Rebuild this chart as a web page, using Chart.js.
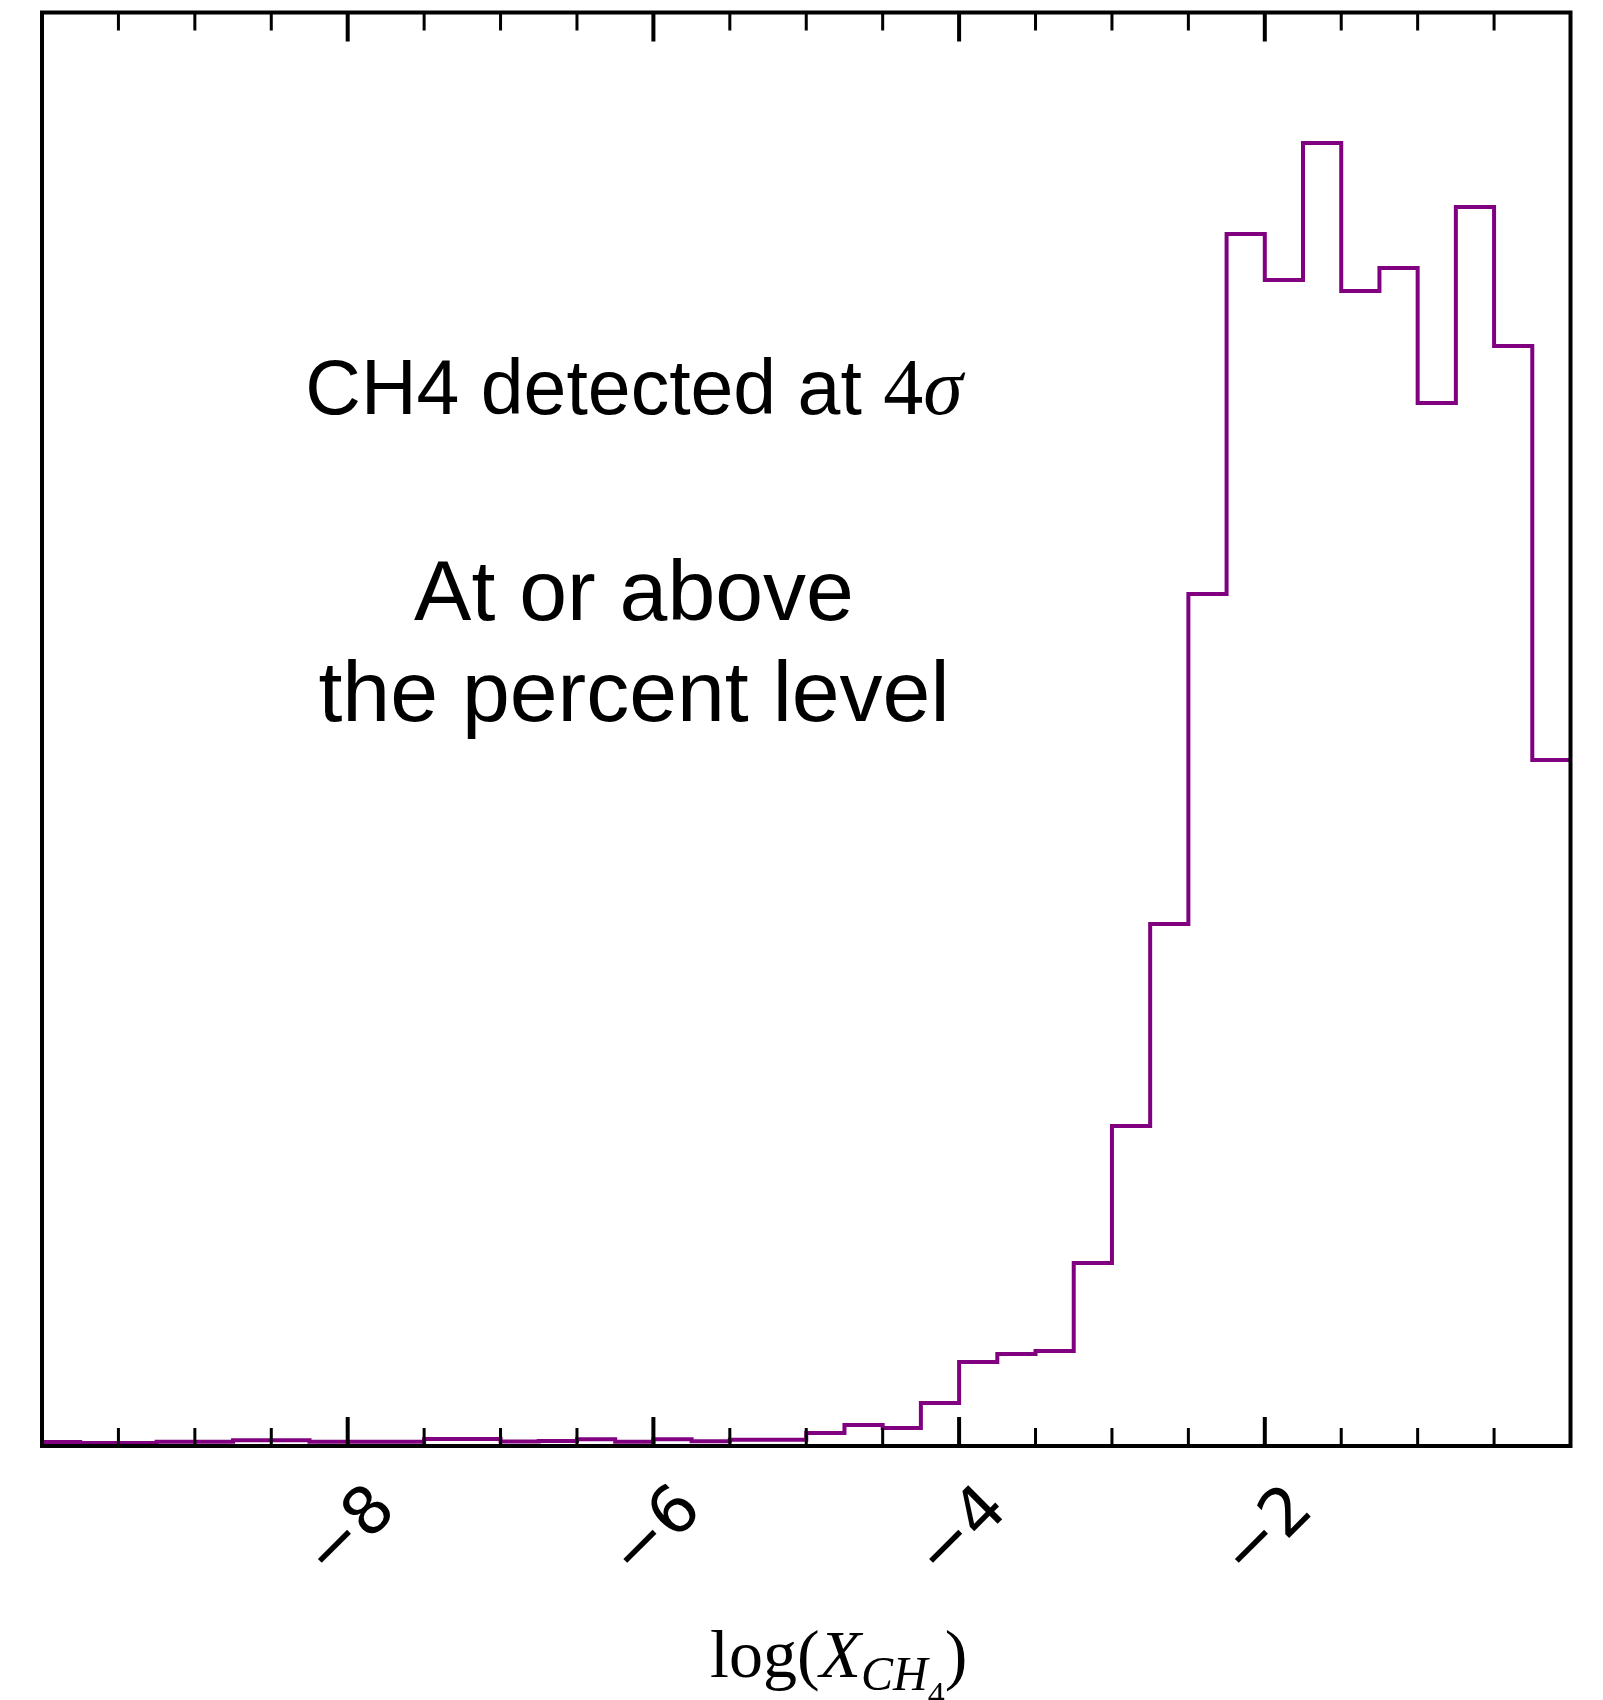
<!DOCTYPE html>
<html>
<head>
<meta charset="utf-8">
<script src="https://cdn.jsdelivr.net/npm/chart.js@4.4.1/dist/chart.umd.min.js"></script>
<style>
    body { margin: 0; background: #fff; }
    #wrap { width: 1603px; height: 1700px; }
</style>
</head>
<body>
<div id="wrap"><canvas id="histCH4" width="1603" height="1700"></canvas></div>
<script>
// Histogram of log(X_CH4) — left bin edges (bin width 0.25) and bin heights
const binEdges = [
    -10, -9.75, -9.5, -9.25, -9, -8.75, -8.5, -8.25,
    -8, -7.75, -7.5, -7.25, -7, -6.75, -6.5, -6.25,
    -6, -5.75, -5.5, -5.25, -5, -4.75, -4.5, -4.25,
    -4, -3.75, -3.5, -3.25, -3, -2.75, -2.5, -2.25,
    -2, -1.75, -1.5, -1.25, -1, -0.75, -0.5, -0.25
];
const binEnd = 0;
const counts = [
    4, 3, 3, 4.3, 4.3, 5.7, 5.7, 4.3,
    4.3, 4.3, 7, 7, 4.5, 5, 6.7, 4.3,
    6.7, 4.7, 6.3, 6.3, 13, 21, 18, 43,
    84, 92, 95, 183, 320, 522, 852, 1212,
    1166, 1303, 1155, 1178, 1043, 1239, 1100, 686
];

// axis ticks
const minorStep = 0.5;
const tickLabels = [-8, -6, -4, -2];
const xLabel = 'log(X_CH4)';

// annotation
const noteLine1 = 'CH4 detected at ';
const noteSigma = ['4', 'σ'];
const noteLines = ['At or above', 'the percent level'];

const LINE_COLOR = '#800080';

// build the stepped outline: each edge holds its count until the next edge
const points = binEdges.map((x, i) => ({ x: x, y: counts[i] }));
points.push({ x: binEnd, y: counts[counts.length - 1] });

// frame, inward ticks, rotated tick labels, axis title and the note
const decorations = {
    id: 'decorations',
    afterDraw(chart) {
        const ctx = chart.ctx;
        const area = chart.chartArea;
        const xs = chart.scales.x;

        ctx.save();
        ctx.strokeStyle = '#000';
        ctx.lineCap = 'butt';

        // ticks on top and bottom, pointing inward
        xs.ticks.forEach(t => {
            const v = t.value;
            if (v <= xs.min || v >= xs.max) return;
            const px = xs.getPixelForValue(v);
            const major = tickLabels.includes(v);
            const len = major ? 29 : 18;
            ctx.lineWidth = major ? 4 : 3;
            ctx.beginPath();
            ctx.moveTo(px, area.bottom);
            ctx.lineTo(px, area.bottom - len);
            ctx.moveTo(px, area.top);
            ctx.lineTo(px, area.top + len);
            ctx.stroke();
        });

        // frame
        ctx.lineWidth = 4;
        ctx.strokeRect(area.left, area.top, area.right - area.left, area.bottom - area.top);

        // tick labels, rotated 45 degrees and centred under the tick
        ctx.fillStyle = '#000';
        ctx.font = '66px "DejaVu Sans"';
        ctx.textAlign = 'center';
        ctx.textBaseline = 'middle';
        tickLabels.forEach(v => {
            const px = xs.getPixelForValue(v);
            ctx.save();
            ctx.translate(px + 4, area.bottom + 88);
            ctx.rotate(-Math.PI / 4);
            ctx.fillText('\u2212' + Math.abs(v), 0, 0);
            ctx.restore();
        });

        // axis title: log(X_{CH_4})
        ctx.textAlign = 'left';
        ctx.textBaseline = 'alphabetic';
        let x = 710;
        const base = 1677;
        const parts = [
            { t: 'log(', f: '68px "Liberation Serif"', dy: 0 },
            { t: 'X', f: 'italic 68px "Liberation Serif"', dy: 0 },
            { t: 'CH', f: 'italic 48px "Liberation Serif"', dy: 13 },
            { t: '4', f: '34px "Liberation Serif"', dy: 28 },
            { t: ')', f: '68px "Liberation Serif"', dy: 0 }
        ];
        parts.forEach(p => {
            ctx.font = p.f;
            ctx.fillText(p.t, x, base + p.dy);
            x += ctx.measureText(p.t).width;
        });

        // note text
        const cx = 634;
        ctx.font = '77px "Liberation Sans"';
        const w1 = ctx.measureText(noteLine1).width;
        ctx.font = '80px "Liberation Serif"';
        const w2 = ctx.measureText(noteSigma[0]).width;
        ctx.font = 'italic 80px "Liberation Serif"';
        const w3 = ctx.measureText(noteSigma[1]).width;
        let nx = cx - (w1 + w2 + w3) / 2;
        ctx.font = '77px "Liberation Sans"';
        ctx.fillText(noteLine1, nx, 414);
        nx += w1;
        ctx.font = '80px "Liberation Serif"';
        ctx.fillText(noteSigma[0], nx, 414);
        nx += w2;
        ctx.font = 'italic 80px "Liberation Serif"';
        ctx.fillText(noteSigma[1], nx, 414);

        ctx.textAlign = 'center';
        ctx.font = '86px "Liberation Sans"';
        ctx.fillText(noteLines[0], cx, 620);
        ctx.fillText(noteLines[1], cx, 721);

        ctx.restore();
    }
};

const canvas = document.getElementById('histCH4');
const chart = new Chart(canvas, {
    type: 'line',
    data: {
        datasets: [{
            label: xLabel,
            data: points,
            stepped: 'before',
            borderColor: LINE_COLOR,
            borderWidth: 4,
            pointRadius: 0,
            fill: false,
            tension: 0
        }]
    },
    options: {
        responsive: false,
        animation: false,
        events: [],
        layout: {
            padding: { left: 42, right: 32.5, top: 12.5, bottom: 0 }
        },
        plugins: {
            legend: { display: false },
            tooltip: { enabled: false },
            title: { display: false }
        },
        scales: {
            x: {
                type: 'linear',
                min: -10,
                max: 0,
                ticks: { stepSize: minorStep, display: false },
                grid: { display: false },
                border: { display: false },
                afterFit: function(scale) {
                    scale.height = 254;
                }
            },
            y: {
                display: false,
                min: 0,
                max: 1433.5
            }
        }
    },
    plugins: [decorations]
});
</script>
</body>
</html>
